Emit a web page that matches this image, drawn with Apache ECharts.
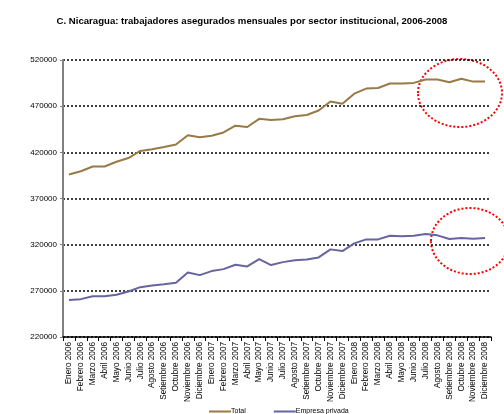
<!DOCTYPE html>
<html><head><meta charset="utf-8">
<script src="https://cdn.jsdelivr.net/npm/echarts@6/dist/echarts.min.js"></script>
<style>html,body{margin:0;padding:0;background:#fff}#c{width:504px;height:414px}</style>
</head><body><div id="c"></div>
<script>
var titleText = 'C. Nicaragua: trabajadores asegurados mensuales por sector institucional, 2006-2008';
var months = ['Enero','Febrero','Marzo','Abril','Mayo','Junio','Julio','Agosto','Setiembre','Octubre','Noviembre','Diciembre'];
var years = ['2006','2007','2008'];
var categories = [];
years.forEach(function(y){ months.forEach(function(m){ categories.push(m + ' ' + y); }); });
var seriesNames = ['Total', 'Empresa privada'];
var totalValues = [396000,399500,404700,404700,409800,413800,421500,423300,425800,428400,438600,436400,
                   437900,441500,448800,447400,456300,455000,455800,459000,460500,465300,475100,472600,
                   483500,489000,489700,494500,494500,495200,498800,498800,495900,499600,496600,496600];
var privadaValues = [260200,261000,264200,264200,265700,269300,274000,275800,277200,278700,289900,287000,
                     291400,293500,298200,296400,304400,297900,301100,303000,304000,306200,314900,313100,
                     321400,325700,325700,329700,329000,329700,331500,330100,326100,327200,326500,327200];
var yMin = 220000, yMax = 520000, yStep = 50000;

var chart = echarts.init(document.getElementById('c'));
chart.setOption({
  animation: false,
  backgroundColor: '#fff',
  title: {
    text: titleText, left: 'center', top: 11,
    textStyle: {fontFamily: 'Liberation Sans, Arial', fontSize: 9.6, fontWeight: 'bold', color: '#000'}
  },
  legend: {
    bottom: -6, left: 204, itemGap: 28, itemWidth: 22, itemHeight: 2, icon: 'rect',
    textStyle: {fontFamily: 'Liberation Sans, Arial', fontSize: 7, color: '#000', padding: [0,0,0,-5]},
    data: seriesNames
  },
  grid: {left: 63, right: 13, top: 60, bottom: 77, containLabel: false},
  xAxis: {
    type: 'category', data: categories, boundaryGap: true,
    axisLine: {lineStyle: {color: '#000', width: 1.5}},
    axisTick: {show: true, interval: 0, length: 4, lineStyle: {color: '#000'}},
    axisLabel: {interval: 0, rotate: 90, fontSize: 8.2, fontFamily: 'Liberation Sans, Arial', color: '#000', margin: 5},
    splitLine: {show: false}
  },
  yAxis: {
    type: 'value', min: yMin, max: yMax, interval: yStep,
    axisLine: {show: true, lineStyle: {color: '#808080', width: 2}},
    axisTick: {show: true, length: 3, lineStyle: {color: '#808080'}},
    axisLabel: {fontSize: 8, fontFamily: 'Liberation Sans, Arial', color: '#000', margin: 6,
                formatter: function(v){ return String(v); }},
    splitLine: {show: true, lineStyle: {color: '#000', type: [2,2], width: 1.5}}
  },
  series: [
    {name: seriesNames[0], type: 'line', data: totalValues, symbol: 'none', lineStyle: {color: '#977A45', width: 2}, itemStyle: {color: '#977A45'}},
    {name: seriesNames[1], type: 'line', data: privadaValues, symbol: 'none', lineStyle: {color: '#65659F', width: 2}, itemStyle: {color: '#65659F'}}
  ],
  graphic: [
    {type: 'ellipse', shape: {cx: 460, cy: 93, rx: 42, ry: 34}, style: {fill: 'none', stroke: '#ff0000', lineWidth: 2, lineDash: [2,2]}},
    {type: 'ellipse', shape: {cx: 470, cy: 241, rx: 39, ry: 33}, style: {fill: 'none', stroke: '#ff0000', lineWidth: 2, lineDash: [2,2]}}
  ]
});
</script></body></html>
